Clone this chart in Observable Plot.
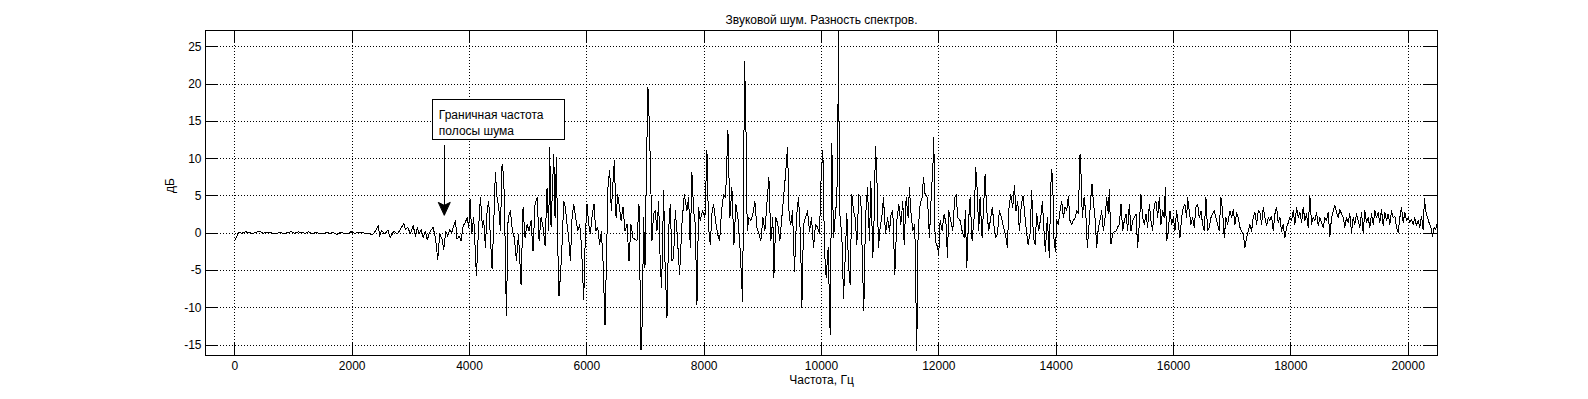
<!DOCTYPE html>
<html><head><meta charset="utf-8">
<script src="https://cdn.jsdelivr.net/npm/d3@7"></script>
<script src="https://cdn.jsdelivr.net/npm/@observablehq/plot@0.6"></script>
<style>body{margin:0;background:#fff}</style>
</head><body><div id="chart"></div>
<script>
// ---- text ----
const title = "Звуковой шум. Разность спектров.";
const xLabel = "Частота, Гц";
const yLabel = "дБ";
const noteText = "Граничная частота\nполосы шума";

// ---- axes ----
const xTicks = [0, 2000, 4000, 6000, 8000, 10000, 12000, 14000, 16000, 18000, 20000];
const yTicks = [-15, -10, -5, 0, 5, 10, 15, 20, 25];
const xDomain = [-500, 20500];
const yDomain = [-16.4, 27.2];

// ---- data: [frequency Hz, spectrum difference dB] ----
const band1 = [[0,-1.0],[60,0.1],[120,0.0],[180,0.2],[240,0.1],[300,0.0],[360,0.1],[420,0.3],[480,0.0],[540,0.1],[600,0.1],[660,0.0],[720,0.0],[780,0.1],[840,-0.1],[900,0.1],[960,0.2],[1020,0.0],[1080,0.2],[1140,0.1],[1200,0.0],[1260,0.2],[1320,-0.1],[1380,0.1],[1440,0.0],[1500,-0.1],[1560,0.1],[1620,0.0],[1680,0.1],[1740,-0.2],[1800,0.1],[1860,0.0],[1920,-0.1],[1980,0.2],[2040,0.0],[2100,0.1],[2160,0.1],[2220,0.0],[2280,0.0],[2340,-0.2],[2400,0.3],[2445,1.0],[2470,-0.4],[2500,0.4],[2550,-0.1],[2610,0.4],[2650,-0.6],[2710,0.3],[2770,-0.1],[2820,0.5],[2880,1.3],[2910,0.5],[2950,0.8],[2990,-0.1],[3040,1.0],[3080,-0.4],[3110,0.8],[3140,-0.1],[3175,0.5],[3210,-0.6],[3250,0.3],[3280,-0.9],[3320,0.1]];
const band2 = [[3334,0.3],[3379,0.8],[3419,-0.6],[3459,-3.5],[3493,-0.1],[3533,-0.8],[3561,-2.2],[3595,0.3],[3629,-0.4],[3663,0.5],[3698,0.1],[3732,1.0],[3760,1.7],[3788,-0.8],[3822,-0.4],[3857,-1.0],[3891,1.0],[3925,1.4],[3959,2.1],[3987,0.8],[4010,4.6],[4038,-0.1],[4072,2.1],[4118,-5.7],[4152,0.3],[4186,4.8],[4220,0.8],[4243,1.7],[4271,-1.9],[4300,3.0],[4328,4.3],[4356,-0.6],[4385,-4.8],[4413,1.2],[4441,8.2],[4470,4.8],[4498,3.5],[4527,0.3],[4555,9.3],[4584,7.5],[4606,-0.6],[4629,-11.1],[4658,2.1],[4697,3.0],[4731,0.3],[4765,-0.6],[4800,-3.7],[4834,-0.1],[4879,-6.9],[4913,3.5],[4947,-0.6],[4981,1.2],[5015,0.3],[5049,1.7],[5083,-2.4],[5117,3.9],[5152,4.8],[5186,-1.0],[5220,2.1],[5254,0.8],[5288,-1.7],[5322,6.1],[5350,0.3],[5367,11.5],[5390,0.8],[5413,5.7],[5436,10.6],[5458,2.1],[5481,10.2],[5504,-1.5],[5526,-8.4],[5555,-5.1],[5583,-0.6],[5606,4.3],[5634,3.5],[5663,1.2],[5691,-0.6],[5720,-3.7],[5748,2.1],[5776,3.9],[5810,2.1],[5845,0.3],[5879,1.2],[5907,-1.5],[5947,-8.9],[5975,-0.1],[6004,3.9],[6032,1.2],[6060,-0.1],[6094,2.6],[6123,3.9],[6151,0.3],[6185,0.8],[6219,-1.5],[6248,0.3],[6276,-3.7],[6310,-12.3],[6333,-4.2],[6362,6.6],[6390,8.4],[6418,3.0],[6447,7.0],[6469,9.7],[6498,2.1],[6526,5.2],[6555,3.5],[6583,1.7],[6617,3.5],[6651,0.3],[6685,1.2],[6719,-3.7]];
const band3 = [[6752,1.2],[6786,-0.6],[6820,-0.8],[6855,-1.0],[6889,3.9],[6923,-15.7],[6945,-11.8],[6968,2.1],[6991,-4.6],[7014,7.9],[7042,19.6],[7065,14.7],[7087,7.9],[7110,-1.0],[7138,2.6],[7167,3.0],[7195,0.3],[7224,4.3],[7252,-4.2],[7275,-7.3],[7309,5.7],[7332,-3.7],[7366,-11.3],[7394,0.3],[7422,3.9],[7451,-3.7],[7479,-3.3],[7508,3.0],[7536,0.3],[7581,-5.5],[7621,1.2],[7661,5.2],[7706,3.0],[7735,4.8],[7763,-1.9],[7791,8.2],[7820,3.0],[7848,1.2],[7877,-9.6],[7905,3.5],[7933,1.7],[7973,3.0],[8013,2.1],[8047,11.1],[8075,0.8],[8104,-1.5],[8132,2.6],[8160,3.9],[8194,1.7],[8228,-0.1],[8263,-1.0],[8297,3.0],[8331,5.2],[8365,4.8],[8405,13.8],[8439,2.1],[8473,6.1],[8507,-1.5],[8541,3.9],[8575,2.1],[8615,-2.4],[8655,-9.1],[8689,23.0],[8711,15.1],[8734,0.3],[8762,2.1],[8797,1.7],[8831,2.6],[8865,4.3],[8899,0.8],[8933,-0.1],[8967,-1.0],[9001,2.1],[9035,0.3],[9069,3.9],[9103,7.5],[9137,-1.0],[9171,2.1],[9188,-6.0],[9222,2.1],[9256,1.2],[9290,-1.0],[9324,2.1],[9358,5.2],[9387,7.9],[9421,11.5],[9449,2.1],[9478,1.2],[9506,3.0],[9540,-5.1],[9574,2.1],[9608,4.8],[9643,-0.6],[9665,-10.0],[9694,1.2],[9728,2.1],[9762,3.0],[9796,0.3],[9830,2.1],[9864,-1.9],[9898,1.2],[9932,0.8],[9966,-0.1],[9995,7.9],[10023,11.1],[10051,-2.4],[10080,-6.0],[10114,-1.9]];
const band4 = [[10148,-13.6],[10176,12.0],[10205,-0.6],[10233,2.1],[10262,4.8],[10279,14.2],[10290,27.2],[10307,3.0],[10330,1.2],[10352,-1.5],[10375,-8.7],[10404,-3.3],[10432,2.6],[10460,-4.2],[10489,-6.9],[10517,5.2],[10545,3.0],[10574,2.1],[10602,-1.5],[10636,5.2],[10670,4.8],[10699,-4.2],[10721,-10.4],[10750,2.1],[10784,6.1],[10818,-1.0],[10841,7.0],[10875,-3.3],[10897,2.1],[10920,11.7],[10943,7.9],[10971,-1.9],[11000,0.8],[11028,2.1],[11056,4.8],[11091,-0.1],[11125,2.1],[11159,0.3],[11187,2.6],[11215,3.0],[11250,-5.5],[11284,1.7],[11318,3.9],[11352,1.2],[11386,4.3],[11409,-1.5],[11443,4.8],[11477,2.1],[11499,6.1],[11522,3.0],[11556,0.3],[11590,1.2],[11607,-7.3],[11624,-15.8],[11647,0.3],[11681,3.9],[11715,4.8],[11738,7.5],[11766,5.2],[11806,4.8],[11840,-0.6],[11874,5.7],[11897,8.4],[11914,12.9],[11937,-1.0],[11965,-1.5],[11999,-2.8],[12022,1.7],[12056,0.3],[12090,2.6],[12124,1.2],[12147,-3.3],[12169,3.0],[12203,1.7],[12237,0.3],[12272,4.8],[12294,5.2],[12323,2.1],[12362,1.7],[12397,0.3],[12431,-0.6],[12453,3.0],[12476,-4.6],[12504,1.2],[12533,4.8],[12567,-1.0],[12601,2.1],[12629,8.8],[12652,6.1],[12680,0.3],[12703,4.8],[12737,-0.6],[12760,3.0],[12788,7.9],[12817,3.0],[12851,0.3],[12885,2.1],[12913,3.5],[12942,0.8],[12970,-0.6],[12998,-0.1],[13032,3.0],[13067,2.1],[13101,0.8],[13135,-0.1],[13169,-1.9],[13191,3.0],[13225,5.2],[13260,3.5],[13288,6.4],[13316,3.0],[13345,4.3],[13373,0.3],[13407,3.9],[13436,5.0],[13470,2.1],[13498,-0.1],[13521,-1.5]];
const band5 = [[13555,-0.1],[13583,5.7],[13612,-0.6],[13640,-1.5],[13669,2.6],[13703,0.3],[13737,2.1],[13765,4.3],[13793,0.3],[13816,-2.4],[13850,2.1],[13884,-3.3],[13907,6.1],[13924,8.6],[13941,7.0],[13964,-1.0],[13987,-2.4],[14009,1.7],[14038,1.2],[14066,3.0],[14094,4.3],[14123,2.1],[14151,3.5],[14180,3.0],[14208,5.0],[14236,1.7],[14265,1.2],[14293,1.7],[14322,2.1],[14350,3.0],[14378,2.6],[14407,10.6],[14424,7.9],[14446,2.1],[14475,4.8],[14503,3.0],[14532,-1.9],[14554,0.3],[14583,3.9],[14611,6.6],[14634,4.3],[14662,2.1],[14691,-1.9],[14719,0.8],[14747,1.7],[14776,3.0],[14804,0.3],[14833,2.1],[14861,4.8],[14889,2.6],[14906,5.9],[14935,-1.5],[14963,-0.1],[14992,0.3],[15020,0.3],[15048,0.8],[15077,1.2],[15105,3.9],[15134,0.3],[15162,1.7],[15190,2.6],[15219,0.3],[15247,3.9],[15275,0.3],[15304,1.7],[15332,2.1],[15361,2.6],[15389,-1.9],[15417,1.2],[15446,5.2],[15474,2.1],[15503,1.2],[15531,2.6],[15559,0.8],[15588,3.9],[15616,1.7],[15644,0.3],[15673,3.9],[15701,4.3],[15730,2.1],[15758,4.8],[15786,1.2],[15815,3.0],[15843,2.1],[15860,6.1],[15883,-1.0],[15911,0.3],[15940,3.0],[15968,1.2],[15997,2.1],[16025,0.3],[16053,3.0],[16082,1.2],[16110,-0.6],[16138,2.1],[16167,3.5],[16195,3.9],[16224,2.1],[16241,4.8],[16269,3.0],[16297,1.2],[16326,2.1],[16354,0.8],[16383,3.5],[16411,3.9],[16439,2.1],[16468,3.0],[16496,1.2],[16525,0.3],[16553,4.8],[16581,0.3],[16610,0.8],[16638,2.1],[16667,2.6],[16695,3.0],[16723,2.1],[16752,1.2],[16780,0.3],[16808,4.8],[16837,3.0],[16865,-0.6],[16894,2.1],[16922,1.2]];
const band6 = [[16962,3.0],[16990,2.1],[17019,3.2],[17047,1.2],[17076,2.8],[17104,2.1],[17132,0.8],[17161,0.3],[17189,-0.1],[17218,-1.9],[17246,-0.6],[17274,0.3],[17303,1.2],[17331,0.3],[17359,2.1],[17388,2.8],[17416,1.2],[17445,3.0],[17473,2.8],[17501,1.2],[17530,3.5],[17558,2.1],[17587,1.0],[17615,2.1],[17643,1.7],[17672,2.3],[17700,0.3],[17729,2.6],[17757,3.5],[17785,1.4],[17814,2.1],[17842,0.3],[17870,1.2],[17899,-0.6],[17927,0.8],[17956,1.4],[17984,2.1],[18012,1.7],[18041,3.0],[18069,1.2],[18098,3.5],[18126,2.1],[18154,2.8],[18183,1.4],[18211,3.5],[18240,1.7],[18268,2.6],[18296,0.8],[18325,5.0],[18353,1.2],[18382,2.1],[18410,1.7],[18438,2.8],[18467,1.0],[18495,2.1],[18523,1.4],[18552,0.8],[18580,2.1],[18609,1.7],[18637,2.8],[18665,-0.4],[18694,2.1],[18722,3.0],[18751,3.7],[18779,2.8],[18807,2.1],[18836,3.2],[18864,2.6],[18893,2.1],[18921,0.8],[18949,2.1],[18978,1.4],[19006,2.6],[19034,0.1],[19063,2.1],[19091,1.2],[19120,2.6],[19148,1.7],[19176,0.8],[19205,2.8],[19233,0.1],[19262,3.0],[19290,1.4],[19318,2.1],[19347,0.8],[19375,2.6],[19404,1.2],[19432,3.0],[19460,2.1],[19489,2.8],[19517,1.4],[19545,3.2],[19574,1.0],[19602,2.8],[19631,1.7],[19659,2.6],[19687,1.2],[19716,3.0],[19744,2.1],[19773,2.3],[19801,0.8],[19829,0.1],[19858,2.1],[19886,3.5],[19915,1.4],[19943,2.8],[19971,1.7],[20000,2.1],[20028,1.4],[20056,1.9],[20085,1.2],[20113,2.1],[20142,1.0],[20170,1.7],[20198,0.8],[20227,2.3],[20255,0.5],[20278,4.6],[20300,3.0],[20329,2.1],[20357,1.4],[20386,0.8],[20414,-0.4],[20443,0.8],[20471,0.5],[20488,1.2]];

// ---- annotation (data coordinates) ----
const note = {x1: 3375, x2: 5620, y1: 12.55, y2: 17.9, text: noteText};
const arrow = {x: 3570, yFrom: 11.8, yTo: 2.4};

const data = [...band1, ...band2, ...band3, ...band4, ...band5, ...band6].map(([hz, db]) => ({hz, db}));

const W = 1588, H = 399, mL = 205, mR = 151, mT = 30, mB = 44;
const frameW = W - mL - mR, frameH = H - mT - mB;
const tickLen = 13;
const crisp = "crispEdges";

const arrowHead = {
  draw(ctx) {
    ctx.moveTo(0, 0);
    ctx.lineTo(-6, -13);
    ctx.lineTo(0, -10);
    ctx.lineTo(6, -13);
    ctx.closePath();
  }
};

const chart = Plot.plot({
  width: W, height: H,
  marginLeft: mL, marginRight: mR, marginTop: mT, marginBottom: mB,
  style: {fontFamily: "'Liberation Sans', Arial, sans-serif", fontSize: "12px", color: "black", background: "white"},
  x: {domain: xDomain},
  y: {domain: yDomain},
  marks: [
    Plot.ruleX(xTicks, {x: d => d, stroke: "black", strokeDasharray: "1,2", shapeRendering: crisp}),
    Plot.ruleY(yTicks, {y: d => d, stroke: "black", strokeDasharray: "1,2", shapeRendering: crisp}),
    Plot.line(data, {x: "hz", y: "db", stroke: "black", strokeWidth: 1, clip: true, shapeRendering: crisp}),
    Plot.rect([note], {x1: "x1", x2: "x2", y1: "y1", y2: "y2", fill: "white", stroke: "black", shapeRendering: crisp}),
    Plot.text([note], {x: "x1", y: d => (d.y1 + d.y2) / 2, text: "text", textAnchor: "start", lineAnchor: "middle", lineHeight: 1.3, dx: 6, dy: 2}),
    Plot.ruleX([arrow], {x: "x", y1: "yFrom", y2: "yTo", stroke: "black", shapeRendering: crisp}),
    Plot.dot([arrow], {x: "x", y: "yTo", symbol: arrowHead, fill: "black", stroke: "black", strokeWidth: 1}),
    Plot.frame({stroke: "black", shapeRendering: crisp}),
    Plot.tickX(xTicks, {x: d => d, insetTop: frameH - tickLen, stroke: "black", shapeRendering: crisp}),
    Plot.tickX(xTicks, {x: d => d, insetBottom: frameH - tickLen, stroke: "black", shapeRendering: crisp}),
    Plot.tickY(yTicks, {y: d => d, insetRight: frameW - tickLen, stroke: "black", shapeRendering: crisp}),
    Plot.tickY(yTicks, {y: d => d, insetLeft: frameW - tickLen, stroke: "black", shapeRendering: crisp}),
    Plot.axisX(xTicks, {tickSize: 0, tickPadding: 6, tickFormat: d => String(d), label: null}),
    Plot.axisY(yTicks, {tickSize: 0, tickPadding: 4, tickFormat: d => String(d), label: null}),
    Plot.text([xLabel], {frameAnchor: "bottom", dy: 28, text: d => d}),
    Plot.text([yLabel], {frameAnchor: "left", dx: -35, rotate: -90, text: d => d}),
    Plot.text([title], {frameAnchor: "top", dy: -15, text: d => d})
  ]
});
document.getElementById("chart").appendChild(chart);
</script>
</body></html>
